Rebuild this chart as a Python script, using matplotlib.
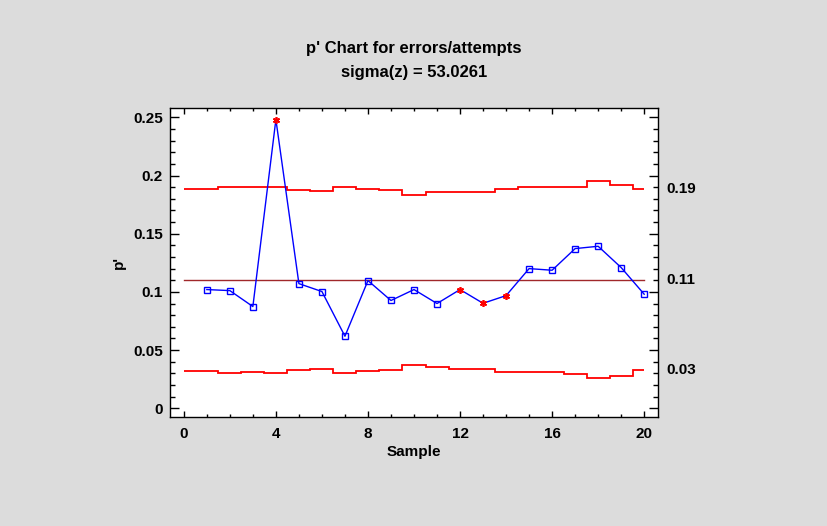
import numpy as np
import matplotlib
matplotlib.use("Agg")
import matplotlib.pyplot as plt
from matplotlib.ticker import MultipleLocator

plt.rcParams['font.family'] = ['Liberation Sans', 'DejaVu Sans']

samples = list(range(1, 21))
p_prime = [0.1020, 0.1011, 0.0874, 0.2481, 0.1071, 0.1003, 0.0619, 0.1097, 0.0926, 0.1020,
           0.0900, 0.1020, 0.0902, 0.0968, 0.1200, 0.1186, 0.1372, 0.1392, 0.1209, 0.0980]
flagged = [4, 12, 13, 14]
ucl = [0.1880, 0.1897, 0.1897, 0.1897, 0.1873, 0.1865, 0.1897, 0.1888, 0.1873, 0.1830,
       0.1854, 0.1862, 0.1862, 0.1888, 0.1897, 0.1897, 0.1905, 0.1951, 0.1922, 0.1880]
lcl = [0.0324, 0.0307, 0.0315, 0.0307, 0.0333, 0.0341, 0.0307, 0.0324, 0.0333, 0.0376,
       0.0358, 0.0341, 0.0341, 0.0315, 0.0315, 0.0315, 0.0298, 0.0264, 0.0281, 0.0333]
center = 0.1106
right_labels = ["0.19", "0.11", "0.03"]
right_values = [0.1880, 0.1106, 0.0333]
title_lines = ["p' Chart for errors/attempts", "sigma(z) = 53.0261"]

bg = '#dcdcdc'
fig = plt.figure(figsize=(8.28, 5.26), dpi=100, facecolor=bg)
ax = fig.add_axes([170/828, 1-417/526, (658-170)/828, (417-108)/526])
ax.set_facecolor('white')

s = np.array(samples, dtype=float)
edges = np.concatenate([[0.0], (s[:-1] + s[1:]) / 2, [s[-1]]])
ax.stairs(ucl, edges, baseline=None, color='#ff0000', lw=1.3)
ax.stairs(lcl, edges, baseline=None, color='#ff0000', lw=1.3)
ax.plot([0, s[-1]], [center, center], color='#a0282a', lw=1.0)

ax.plot(samples, p_prime, color='#0000ff', lw=1.0, zorder=3)
nx = [x for x in samples if x not in flagged]
ny = [p_prime[x - 1] for x in nx]
ax.plot(nx, ny, ls='none', marker='s', ms=4.2, mfc='none', mec='#0000ff', mew=1.0, zorder=4)
fx = [x for x in flagged]
fy = [p_prime[x - 1] for x in flagged]
ax.plot(fx, fy, ls='none', marker=(6, 2, 0), ms=5, color='#ff0000', mew=1.2, zorder=4)

ax.set_xlim(-0.6, 20.6)
ax.set_ylim(-0.0075, 0.258)
ax.xaxis.set_major_locator(MultipleLocator(4))
ax.xaxis.set_minor_locator(MultipleLocator(1))
ax.yaxis.set_minor_locator(MultipleLocator(0.01))
ax.set_yticks([0, 0.05, 0.1, 0.15, 0.2, 0.25])
ax.set_yticklabels(['0', '0.05', '0.1', '0.15', '0.2', '0.25'])

ax.tick_params(axis='both', which='both', direction='in', top=True, right=True, width=1.0,
               labelsize=11)
ax.tick_params(axis='x', which='major', length=4.5, pad=7)
ax.tick_params(axis='x', which='minor', length=2.5)
ax.tick_params(axis='y', which='major', length=6.8, pad=5)
ax.tick_params(axis='y', which='minor', length=3.8)
for lab in ax.get_xticklabels() + ax.get_yticklabels():
    lab.set_fontweight('bold')
for sp in ax.spines.values():
    sp.set_linewidth(1.0)

ax.set_xlabel('Sample', fontsize=11, fontweight='bold', labelpad=3)
ax.set_ylabel("p'", fontsize=11, fontweight='bold', labelpad=5)

for lbl, val in zip(right_labels, right_values):
    ax.annotate(lbl, xy=(1.0, val), xycoords=('axes fraction', 'data'),
                xytext=(8, 0), textcoords='offset pixels', ha='left', va='center',
                fontsize=11, fontweight='bold')

for ypix, line in zip([48.5, 72], title_lines):
    fig.text(414/828, 1-ypix/526, line, ha='center', va='center', fontsize=12,
             fontweight='bold')

fig.savefig('out.png', dpi=100, facecolor=bg)
